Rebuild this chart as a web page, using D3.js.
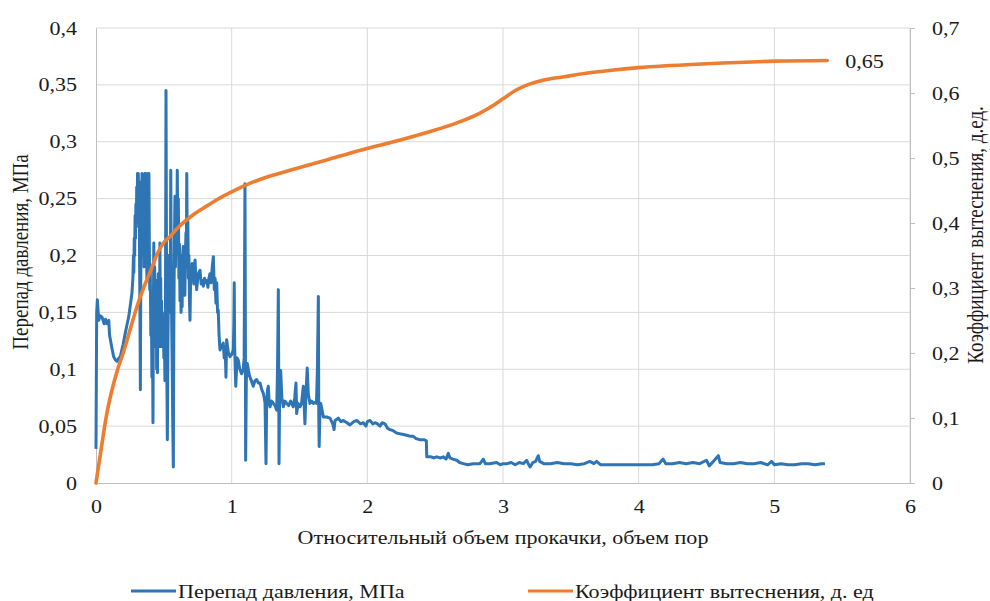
<!DOCTYPE html>
<html>
<head>
<meta charset="utf-8">
<script src="https://cdn.jsdelivr.net/npm/d3@7"></script>
<style>
  body { margin: 0; background: #fff; }
  text { font-family: "Times New Roman", "Liberation Serif", "DejaVu Serif", serif; fill: #1a1a1a; }
</style>
</head>
<body>
<svg id="chart" width="990" height="601"></svg>
<script>
// pressure drop, MPa (left axis) vs pore volumes pumped
var pressure = [
  [0.0,0.03],[0.005,0.15],[0.01,0.161],[0.02,0.143],[0.03,0.147],[0.044,0.146],[0.06,0.14],[0.07,0.144],[0.081,0.14],[0.094,0.143],
  [0.1,0.13],[0.115,0.12],[0.13,0.111],[0.145,0.108],[0.155,0.107],[0.17,0.11],[0.179,0.111],[0.2,0.122],[0.216,0.132],[0.23,0.14],
  [0.241,0.146],[0.255,0.158],[0.265,0.167],[0.272,0.18],[0.276,0.2],[0.279,0.185],[0.282,0.215],[0.285,0.2],[0.288,0.235],[0.291,0.215],
  [0.294,0.245],[0.297,0.225],[0.3,0.26],[0.303,0.235],[0.306,0.272],[0.309,0.24],[0.312,0.272],[0.315,0.23],[0.318,0.265],[0.321,0.2],
  [0.324,0.15],[0.327,0.082],[0.33,0.18],[0.333,0.25],[0.336,0.21],[0.339,0.272],[0.342,0.23],[0.345,0.27],[0.348,0.2],[0.351,0.24],
  [0.354,0.19],[0.357,0.26],[0.36,0.272],[0.363,0.22],[0.366,0.272],[0.369,0.2],[0.372,0.24],[0.375,0.18],[0.378,0.25],[0.381,0.2],
  [0.384,0.272],[0.387,0.23],[0.39,0.272],[0.393,0.21],[0.396,0.17],[0.4,0.19],[0.404,0.13],[0.408,0.16],[0.412,0.093],[0.416,0.14],
  [0.42,0.053],[0.423,0.15],[0.426,0.211],[0.429,0.16],[0.432,0.19],[0.435,0.14],[0.438,0.17],[0.441,0.12],[0.444,0.178],[0.447,0.1],
  [0.45,0.14],[0.453,0.097],[0.456,0.16],[0.459,0.184],[0.462,0.13],[0.465,0.17],[0.468,0.12],[0.471,0.211],[0.474,0.15],[0.477,0.18],
  [0.48,0.12],[0.483,0.16],[0.486,0.13],[0.489,0.15],[0.492,0.125],[0.496,0.145],[0.5,0.11],[0.504,0.13],[0.508,0.09],[0.512,0.15],
  [0.516,0.345],[0.519,0.22],[0.522,0.1],[0.526,0.038],[0.53,0.12],[0.533,0.16],[0.537,0.2],[0.54,0.15],[0.544,0.19],[0.548,0.16],
  [0.551,0.275],[0.554,0.2],[0.558,0.14],[0.562,0.1],[0.566,0.05],[0.57,0.014],[0.573,0.12],[0.576,0.18],[0.579,0.22],[0.582,0.252],
  [0.586,0.19],[0.59,0.23],[0.594,0.2],[0.599,0.275],[0.603,0.22],[0.607,0.25],[0.611,0.18],[0.615,0.21],[0.619,0.16],[0.623,0.2],
  [0.627,0.15],[0.631,0.19],[0.635,0.155],[0.639,0.2],[0.643,0.208],[0.647,0.17],[0.651,0.19],[0.655,0.165],[0.659,0.2],[0.663,0.22],
  [0.666,0.19],[0.669,0.272],[0.673,0.2],[0.677,0.23],[0.681,0.18],[0.685,0.2],[0.689,0.16],[0.693,0.143],[0.697,0.175],[0.701,0.19],
  [0.705,0.178],[0.709,0.193],[0.713,0.178],[0.717,0.185],[0.721,0.175],[0.725,0.19],[0.73,0.196],[0.736,0.18],[0.742,0.17],
  [0.75,0.18],[0.758,0.185],[0.767,0.187],[0.775,0.175],[0.783,0.178],[0.791,0.173],[0.8,0.18],[0.808,0.176],[0.816,0.178],[0.825,0.172],
  [0.832,0.18],[0.84,0.184],[0.848,0.176],[0.857,0.19],[0.865,0.199],[0.872,0.17],[0.878,0.18],[0.884,0.158],[0.89,0.176],[0.896,0.15],
  [0.901,0.152],[0.907,0.13],[0.914,0.117],[0.925,0.12],[0.938,0.123],[0.945,0.11],[0.952,0.12],[0.958,0.093],[0.963,0.126],[0.975,0.115],
  [0.988,0.111],[1.0,0.113],[1.012,0.117],[1.016,0.14],[1.019,0.176],[1.022,0.12],[1.03,0.085],[1.04,0.11],[1.049,0.108],[1.06,0.1],
  [1.074,0.096],[1.085,0.1],[1.092,0.11],[1.098,0.263],[1.101,0.14],[1.103,0.02],[1.108,0.09],[1.115,0.105],[1.13,0.095],[1.145,0.09],
  [1.159,0.085],[1.172,0.09],[1.184,0.091],[1.196,0.088],[1.209,0.088],[1.222,0.082],[1.233,0.079],[1.24,0.075],[1.246,0.07],[1.253,0.017],
  [1.258,0.07],[1.264,0.082],[1.27,0.085],[1.277,0.07],[1.283,0.067],[1.295,0.072],[1.307,0.07],[1.32,0.068],[1.332,0.064],[1.338,0.1],
  [1.344,0.17],[1.347,0.09],[1.349,0.017],[1.353,0.07],[1.361,0.099],[1.37,0.075],[1.381,0.067],[1.393,0.072],[1.406,0.07],[1.42,0.068],
  [1.435,0.072],[1.454,0.067],[1.465,0.075],[1.474,0.088],[1.479,0.061],[1.49,0.07],[1.504,0.067],[1.515,0.07],[1.528,0.085],[1.534,0.07],
  [1.54,0.052],[1.548,0.08],[1.557,0.101],[1.565,0.078],[1.577,0.07],[1.59,0.072],[1.602,0.07],[1.615,0.071],[1.625,0.07],[1.632,0.1],
  [1.639,0.164],[1.642,0.06],[1.645,0.032],[1.65,0.06],[1.656,0.07],[1.665,0.065],[1.676,0.058],[1.7,0.058],[1.725,0.057],[1.745,0.052],
  [1.755,0.047],[1.762,0.055],[1.786,0.057],[1.805,0.054],[1.823,0.055],[1.85,0.053],[1.872,0.051],[1.9,0.054],[1.922,0.055],[1.95,0.052],
  [1.97,0.053],[1.99,0.05],[2.0,0.054],[2.02,0.055],[2.04,0.052],[2.056,0.053],[2.075,0.052],[2.093,0.05],[2.11,0.053],[2.13,0.052],
  [2.15,0.048],[2.167,0.047],[2.19,0.046],[2.216,0.044],[2.25,0.043],[2.29,0.042],[2.32,0.041],[2.339,0.041],[2.36,0.039],[2.388,0.038],
  [2.42,0.038],[2.435,0.037],[2.438,0.023],[2.47,0.023],[2.49,0.022],[2.511,0.023],[2.54,0.022],[2.56,0.023],[2.58,0.021],[2.597,0.026],
  [2.609,0.022],[2.63,0.021],[2.659,0.02],[2.68,0.018],[2.707,0.017],[2.74,0.016],[2.781,0.017],[2.83,0.017],[2.855,0.021],[2.87,0.017],
  [2.9,0.017],[2.953,0.018],[2.98,0.016],[3.0,0.017],[3.03,0.017],[3.06,0.018],[3.09,0.016],[3.12,0.018],[3.15,0.017],[3.175,0.02],
  [3.19,0.016],[3.2,0.014],[3.22,0.018],[3.24,0.019],[3.26,0.024],[3.27,0.019],[3.3,0.017],[3.35,0.017],[3.4,0.018],[3.45,0.017],
  [3.5,0.017],[3.55,0.016],[3.6,0.017],[3.64,0.019],[3.67,0.017],[3.69,0.019],[3.72,0.016],[3.8,0.016],[3.9,0.016],[4.0,0.016],
  [4.1,0.016],[4.15,0.017],[4.18,0.021],[4.2,0.017],[4.25,0.017],[4.3,0.018],[4.35,0.017],[4.4,0.018],[4.45,0.017],[4.5,0.02],
  [4.52,0.015],[4.55,0.019],[4.587,0.024],[4.6,0.018],[4.65,0.017],[4.7,0.017],[4.75,0.018],[4.8,0.017],[4.85,0.017],[4.9,0.018],
  [4.95,0.016],[4.98,0.019],[5.0,0.016],[5.05,0.017],[5.1,0.016],[5.15,0.016],[5.2,0.017],[5.25,0.017],[5.3,0.016],[5.35,0.017],[5.373,0.017]
];

// displacement coefficient (right axis)
var displacement = [
  [0,0],[0.04,0.055],[0.08,0.107],[0.12,0.145],[0.16,0.175],[0.2,0.2],[0.25,0.235],[0.3,0.27],[0.35,0.3],[0.4,0.325],
  [0.45,0.352],[0.5,0.37],[0.55,0.38],[0.6,0.392],[0.7,0.41],[0.8,0.424],[0.9,0.437],[1.0,0.448],[1.1,0.458],[1.25,0.47],
  [1.43,0.481],[1.7,0.497],[1.95,0.512],[2.25,0.528],[2.5,0.543],[2.7,0.557],[2.83,0.569],[2.93,0.581],[3.0,0.591],[3.1,0.605],
  [3.2,0.614],[3.3,0.62],[3.45,0.625],[3.6,0.63],[3.8,0.635],[4.0,0.639],[4.5,0.645],[5.0,0.649],[5.39,0.65]
];

var xTicks = [0, 1, 2, 3, 4, 5, 6];
var leftTicks = [0, 0.05, 0.1, 0.15, 0.2, 0.25, 0.3, 0.35, 0.4];
var rightTicks = [0, 0.1, 0.2, 0.3, 0.4, 0.5, 0.6, 0.7];
var seriesNames = ["Перепад давления, МПа", "Коэффициент вытеснения, д. ед"];
var endLabel = "0,65";

var svg = d3.select("#chart");
var padL = 96, padR = 910, padT = 28, padB = 483;
var sx = 1.16; // the picture is a bit wider than tall, text too
var serif = "'Times New Roman', 'Liberation Serif', serif";

var x = d3.scaleLinear().domain([0, 6]).range([padL, padR]);
var yL = d3.scaleLinear().domain([0, 0.4]).range([padB, padT]);
var yR = d3.scaleLinear().domain([0, 0.7]).range([padB, padT]);

var comma = function (d) { return String(d).replace(".", ","); };

// grid
svg.append("g").selectAll("line").data(leftTicks.slice(1)).enter().append("line")
  .attr("x1", padL).attr("x2", padR)
  .attr("y1", function (d) { return yL(d); }).attr("y2", function (d) { return yL(d); })
  .attr("stroke", "#d9d9d9").attr("stroke-width", 1);
svg.append("g").selectAll("line").data(xTicks.slice(1)).enter().append("line")
  .attr("x1", function (d) { return x(d); }).attr("x2", function (d) { return x(d); })
  .attr("y1", padT).attr("y2", padB)
  .attr("stroke", "#d9d9d9").attr("stroke-width", 1);

// axes
var gx = svg.append("g").attr("transform", "translate(0," + padB + ")")
  .call(d3.axisBottom(x).tickValues(xTicks).tickSize(0).tickPadding(17).tickFormat(comma));
var gl = svg.append("g").attr("transform", "translate(" + padL + ",0)")
  .call(d3.axisLeft(yL).tickValues(leftTicks).tickSize(0).tickPadding(19).tickFormat(comma));
var gr = svg.append("g").attr("transform", "translate(" + padR + ",0)")
  .call(d3.axisRight(yR).tickValues(rightTicks).tickSize(5).tickPadding(17).tickFormat(comma));

[gx, gl, gr].forEach(function (g) {
  g.attr("font-family", null);
  g.select(".domain").attr("stroke", "#bfbfbf");
  g.selectAll(".tick line").attr("stroke", "#bfbfbf");
  g.selectAll("text").style("font-family", serif).style("font-size", "19px")
    .attr("fill", "#1a1a1a")
    .attr("x", function () { return +d3.select(this).attr("x") / sx || 0; })
    .attr("transform", "scale(" + sx + ",1)");
});

// lines
svg.append("path").datum(pressure)
  .attr("fill", "none").attr("stroke", "#2e75b6").attr("stroke-width", 3)
  .attr("stroke-linejoin", "round")
  .attr("d", d3.line().x(function (d) { return x(d[0]); }).y(function (d) { return yL(d[1]); }));

svg.append("path").datum(displacement)
  .attr("fill", "none").attr("stroke", "#ed7d31").attr("stroke-width", 3.6)
  .attr("stroke-linecap", "round")
  .attr("d", d3.line().curve(d3.curveMonotoneX).x(function (d) { return x(d[0]); }).y(function (d) { return yR(d[1]); }));

var last = displacement[displacement.length - 1];
svg.append("text")
  .attr("transform", "translate(" + (x(last[0]) + 18) + "," + (yR(last[1]) + 7) + ") scale(" + sx + ",1)")
  .style("font-size", "19px").text(endLabel);

// titles
svg.append("text").attr("transform", "translate(503,544) scale(" + sx + ",1)").attr("text-anchor", "middle")
  .style("font-size", "19px").text("Относительный объем прокачки, объем пор");
svg.append("text").attr("transform", "translate(28,252) scale(" + sx + ",1) rotate(-90)").attr("text-anchor", "middle")
  .style("font-size", "19px").text("Перепад давления, МПа");
svg.append("text").attr("transform", "translate(983,235) scale(" + sx + ",1) rotate(-90)").attr("text-anchor", "middle")
  .style("font-size", "19px").text("Коэффициент вытеснения, д.ед.");

// legend
var legend = [
  { name: seriesNames[0], color: "#2e75b6", x: 131 },
  { name: seriesNames[1], color: "#ed7d31", x: 528 }
];
var lg = svg.append("g").selectAll("g").data(legend).enter().append("g")
  .attr("transform", function (d) { return "translate(" + d.x + ",591)"; });
lg.append("line").attr("x1", 0).attr("x2", 45).attr("y1", 0).attr("y2", 0)
  .attr("stroke", function (d) { return d.color; }).attr("stroke-width", 3);
lg.append("text").attr("transform", "translate(47,7) scale(" + sx + ",1)")
  .style("font-size", "19px").text(function (d) { return d.name; });
</script>
</body>
</html>
